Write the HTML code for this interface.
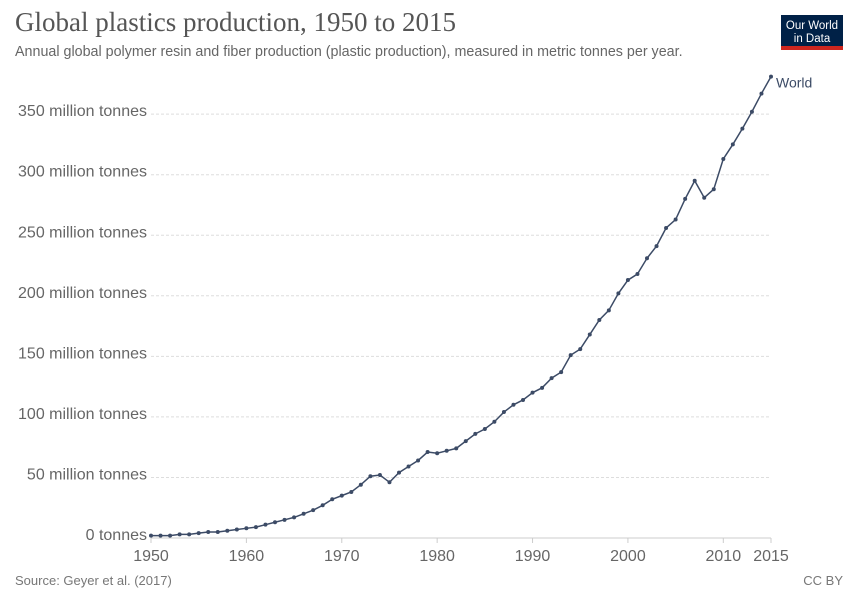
<!DOCTYPE html>
<html><head><meta charset="utf-8"><style>
body{margin:0;background:#fff;font-family:"Liberation Sans",sans-serif;}
svg{display:block}
</style></head><body>
<svg width="858" height="606">
<text x="15" y="31" font-family="Liberation Serif,serif" font-size="27" fill="#555">Global plastics production, 1950 to 2015</text>
<text x="15" y="56" font-size="14.3" fill="#666">Annual global polymer resin and fiber production (plastic production), measured in metric tonnes per year.</text>
<g>
<rect x="781" y="15" width="62" height="35" fill="#002147"/>
<rect x="781" y="46" width="62" height="4" fill="#ce261e"/>
<text x="812" y="29" font-size="11.5" fill="#fff" text-anchor="middle">Our World</text>
<text x="812" y="42" font-size="11.5" fill="#fff" text-anchor="middle">in Data</text>
</g>
<g id="grid"></g><g id="xaxis"></g><g id="series"></g>
<text x="15" y="585" font-size="13" fill="#777">Source: Geyer et al. (2017)</text>
<text x="843" y="585" font-size="13" fill="#777" text-anchor="end">CC BY</text>
</svg>
<script>
const years=[1950,1951,1952,1953,1954,1955,1956,1957,1958,1959,1960,1961,1962,1963,1964,1965,1966,1967,1968,1969,1970,1971,1972,1973,1974,1975,1976,1977,1978,1979,1980,1981,1982,1983,1984,1985,1986,1987,1988,1989,1990,1991,1992,1993,1994,1995,1996,1997,1998,1999,2000,2001,2002,2003,2004,2005,2006,2007,2008,2009,2010,2011,2012,2013,2014,2015];
const values=[2,2,2,3,3,4,5,5,6,7,8,9,11,13,15,17,20,23,27,32,35,38,44,51,52,46,54,59,64,71,70,72,74,80,86,90,96,104,110,114,120,124,132,137,151,156,168,180,188,202,213,218,231,241,256,263,280,295,281,288,313,325,338,352,367,381];
const yTicks=[0,50,100,150,200,250,300,350];
const yTickLabels=["0 tonnes","50 million tonnes","100 million tonnes","150 million tonnes","200 million tonnes","250 million tonnes","300 million tonnes","350 million tonnes"];
const xTicks=[1950,1960,1970,1980,1990,2000,2010,2015];
const NS="http://www.w3.org/2000/svg";
const x=v=>151+(v-1950)*(771-151)/65;
const y=v=>538-v*1.211;
function mk(t,a,p){const e=document.createElementNS(NS,t);for(const k in a)e.setAttribute(k,a[k]);p.appendChild(e);return e;}
const g=document.getElementById('grid');
yTicks.forEach((t,i)=>{
 const l=mk('line',{x1:151,x2:771,y1:y(t),y2:y(t),stroke:t===0?'#ccc':'#ddd','stroke-dasharray':t===0?'':'3,2'},g);
 
 
 const tx=mk('text',{x:147,y:y(t)+2,'font-size':16,fill:'#666','text-anchor':'end'},g);
 tx.textContent=yTickLabels[i];
 
 
});
const xa=document.getElementById('xaxis');
xTicks.forEach(t=>{
 const l=mk('line',{x1:x(t),x2:x(t),y1:538,y2:543,stroke:'#ccc'},xa);
 
 
 const tx=mk('text',{x:x(t),y:561,'font-size':16,fill:'#666','text-anchor':'middle'},xa);
 tx.textContent=t;
 
 
});
const s=document.getElementById('series');
const pl=mk('polyline',{points:years.map((yr,i)=>x(yr)+','+y(values[i])).join(' '),fill:'none',stroke:'#3c4b66','stroke-width':1.5},s);


years.forEach((yr,i)=>{
 const c=mk('circle',{cx:x(yr),cy:y(values[i]),r:2,fill:'#3c4b66'},s);
 
 
});
const lab=mk('text',{x:x(2015)+5,y:y(values[values.length-1])+11,'font-size':14,fill:'#3c4b66'},s);
lab.textContent='World';


</script>
</body></html>
